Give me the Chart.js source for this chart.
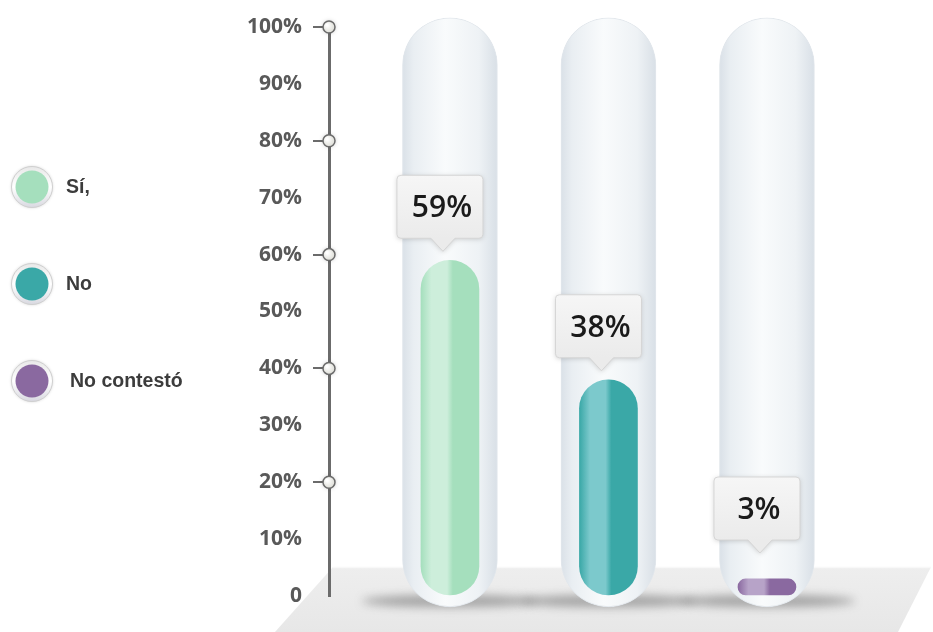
<!DOCTYPE html>
<html>
<head>
<meta charset="utf-8">
<script src="https://cdn.jsdelivr.net/npm/chart.js@4"></script>
<style>
  html, body { margin: 0; padding: 0; background: #ffffff; }
  #wrap { width: 933px; height: 632px; position: relative; }
</style>
</head>
<body>
<div id="wrap"><canvas id="c" width="933" height="632"></canvas></div>
<script>
// ---- data ----
const categories = ['Sí,', 'No', 'No contestó'];
const values = [59, 38, 3];
const valueLabels = ['59%', '38%', '3%'];
const yTickLabels = ['0', '10%', '20%', '30%', '40%', '50%', '60%', '70%', '80%', '90%', '100%'];
const fillColors = ['#a5dfbd', '#3aa8a7', '#8a69a0'];
const highlightColors = ['#cdeedb', '#7cc9cc', '#b7a3c8'];

// ---- styling constants ----
const TUBE_BOTTOM = -1.9, TUBE_TOP = 101.6;

function xPix(chart, i) { return chart.scales.x.getPixelForValue(i); }

function tubeGradient(ctx) {
  const chart = ctx.chart;
  if (ctx.dataIndex === undefined || !chart.scales || !chart.scales.x || !chart.chartArea) return '#eef2f5';
  const cx = xPix(chart, ctx.dataIndex);
  if (!Number.isFinite(cx)) return '#eef2f5';
  const g = chart.ctx.createLinearGradient(cx - 48, 0, cx + 48, 0);
  g.addColorStop(0, '#d9e0e7');
  g.addColorStop(0.12, '#e9eef2');
  g.addColorStop(0.45, '#f9fbfc');
  g.addColorStop(0.8, '#eef2f5');
  g.addColorStop(1, '#d8dfe6');
  return g;
}
function fillGradient(ctx) {
  const chart = ctx.chart;
  const i = ctx.dataIndex;
  if (i === undefined || !chart.scales || !chart.scales.x || !chart.chartArea) return fillColors[0];
  const cx = xPix(chart, i);
  if (!Number.isFinite(cx)) return fillColors[i];
  const g = chart.ctx.createLinearGradient(cx - 29, 0, cx + 29, 0);
  g.addColorStop(0, fillColors[i]);
  g.addColorStop(0.18, highlightColors[i]);
  g.addColorStop(0.45, highlightColors[i]);
  g.addColorStop(0.55, fillColors[i]);
  g.addColorStop(1, fillColors[i]);
  return g;
}

const floorPlugin = {
  id: 'floor',
  beforeDraw(chart) {
    const c = chart.ctx;
    c.save();
    c.beginPath();
    c.moveTo(333, 567); c.lineTo(931, 567); c.lineTo(898, 632); c.lineTo(275, 632);
    c.closePath();
    const g = c.createLinearGradient(0, 567, 0, 632);
    g.addColorStop(0, '#eeeeee');
    g.addColorStop(1, '#e7e7e7');
    c.fillStyle = g; c.fill();
    c.strokeStyle = '#f8f8f8'; c.lineWidth = 1.5;
    c.beginPath(); c.moveTo(333, 567.5); c.lineTo(931, 567.5); c.stroke();
    c.restore();
  },
  beforeDatasetsDraw(chart) {
    const c = chart.ctx;
    c.save();
    c.filter = 'blur(5px)';
    categories.forEach((_, i) => {
      const cx = xPix(chart, i);
      c.fillStyle = 'rgba(70,70,70,0.45)';
      c.beginPath();
      c.ellipse(cx, 601, 88, 6, 0, 0, Math.PI * 2);
      c.fill();
    });
    c.restore();
  },
  afterDatasetsDraw(chart) {
    const c = chart.ctx;
    const meta = chart.getDatasetMeta(1);
    const y0 = chart.scales.y.getPixelForValue(0);
    meta.data.forEach((bar, i) => {
      const w = 86, h = 63;
      const cx = bar.x - 10;
      const bottom = Math.min(bar.y - 22, y0 - 56);
      const top = bottom - h;
      const left = cx - w / 2;
      const tipX = cx + 3;
      c.save();
      c.shadowColor = 'rgba(0,0,0,0.18)';
      c.shadowBlur = 5;
      c.shadowOffsetY = 1;
      c.beginPath();
      const r = 4;
      c.moveTo(left + r, top);
      c.lineTo(left + w - r, top);
      c.quadraticCurveTo(left + w, top, left + w, top + r);
      c.lineTo(left + w, bottom - r);
      c.quadraticCurveTo(left + w, bottom, left + w - r, bottom);
      c.lineTo(tipX + 12, bottom);
      c.lineTo(tipX, bottom + 13);
      c.lineTo(tipX - 12, bottom);
      c.lineTo(left + r, bottom);
      c.quadraticCurveTo(left, bottom, left, bottom - r);
      c.lineTo(left, top + r);
      c.quadraticCurveTo(left, top, left + r, top);
      c.closePath();
      const g = c.createLinearGradient(0, top, 0, bottom);
      g.addColorStop(0, '#f6f6f6');
      g.addColorStop(1, '#ebebeb');
      c.fillStyle = g;
      c.fill();
      c.shadowColor = 'transparent';
      c.strokeStyle = '#d6d6d6';
      c.lineWidth = 1;
      c.stroke();
      c.fillStyle = '#1a1a1a';
      c.font = '600 30px "Open Sans"';
      c.textAlign = 'center';
      c.textBaseline = 'middle';
      c.fillText(valueLabels[i], cx + 2, top + h / 2 + 2);
      c.restore();
    });
  },
  afterDraw(chart) {
    const c = chart.ctx;
    const ys = chart.scales.y;
    const ax = chart.chartArea.left;
    for (let v = 20; v <= 100; v += 20) {
      const y = ys.getPixelForValue(v);
      c.save();
      c.shadowColor = 'rgba(0,0,0,0.25)';
      c.shadowBlur = 4;
      const g = c.createRadialGradient(ax - 2, y - 2, 1, ax, y, 7);
      g.addColorStop(0, '#ffffff');
      g.addColorStop(1, '#d8d8d0');
      c.fillStyle = g;
      c.beginPath(); c.arc(ax, y, 6, 0, Math.PI * 2); c.fill();
      c.shadowColor = 'transparent';
      c.strokeStyle = '#6b6b6b'; c.lineWidth = 1.5; c.stroke();
      c.restore();
    }
    categories.forEach((name, i) => {
      const cx = 32, cy = 187 + i * 97;
      c.save();
      c.shadowColor = 'rgba(0,0,0,0.2)';
      c.shadowBlur = 3;
      const ring = c.createLinearGradient(0, cy - 21, 0, cy + 21);
      ring.addColorStop(0, '#e8e8e8');
      ring.addColorStop(0.5, '#ffffff');
      ring.addColorStop(1, '#d8d8e0');
      c.fillStyle = ring;
      c.beginPath(); c.arc(cx, cy, 20.5, 0, Math.PI * 2); c.fill();
      c.shadowColor = 'transparent';
      c.strokeStyle = '#cfcfcf'; c.lineWidth = 1; c.stroke();
      c.fillStyle = fillColors[i];
      c.beginPath(); c.arc(cx, cy, 16.5, 0, Math.PI * 2); c.fill();
      c.fillStyle = '#3c3c3c';
      c.font = 'bold 19.5px "Liberation Sans", sans-serif';
      c.textAlign = 'left';
      c.textBaseline = 'middle';
      c.fillText(name, i === 2 ? 70 : 66, cy + 1);
      c.restore();
    });
  }
};

const chart = new Chart(document.getElementById('c'), {
  type: 'bar',
  data: {
    datasets: [
      {
        label: 'tube',
        data: categories.map((_, i) => ({ x: i, y: [TUBE_BOTTOM, TUBE_TOP] })),
        backgroundColor: tubeGradient,
        borderColor: '#e2e7ec',
        borderWidth: 1,
        borderRadius: 48,
        borderSkipped: false,
        barThickness: 95,
        clip: false,
        order: 2
      },
      {
        label: 'valor',
        data: values.map((v, i) => ({ x: i, y: [0, v] })),
        backgroundColor: fillGradient,
        borderWidth: 0,
        borderRadius: 29,
        borderSkipped: false,
        barThickness: 58,
        clip: false,
        order: 1
      }
    ]
  },
  options: {
    responsive: false,
    animation: false,
    events: [],
    layout: { padding: { top: 27, bottom: 36, right: 8, left: 0 } },
    plugins: { legend: { display: false }, tooltip: { enabled: false } },
    datasets: { bar: { grouped: false } },
    scales: {
      x: {
        type: 'linear',
        display: false,
        offset: false,
        min: -0.763,
        max: 2.997
      },
      y: {
        min: 0,
        max: 100,
        afterFit(scale) { scale.width = 329; },
        ticks: {
          stepSize: 10,
          padding: 11,
          color: '#595959',
          font: { family: '"Open Sans"', weight: 'bold', size: 21 },
          callback: (v, idx) => yTickLabels[idx]
        },
        grid: {
          drawOnChartArea: false,
          drawTicks: true,
          tickLength: 16,
          lineWidth: 2,
          color: (ctx) => (ctx.tick && ctx.tick.value % 20 === 0 && ctx.tick.value > 0) ? '#6b6b6b' : 'rgba(0,0,0,0)'
        },
        border: { display: true, color: '#6b6b6b', width: 3 }
      }
    }
  },
  plugins: [floorPlugin]
});
</script>
</body>
</html>
